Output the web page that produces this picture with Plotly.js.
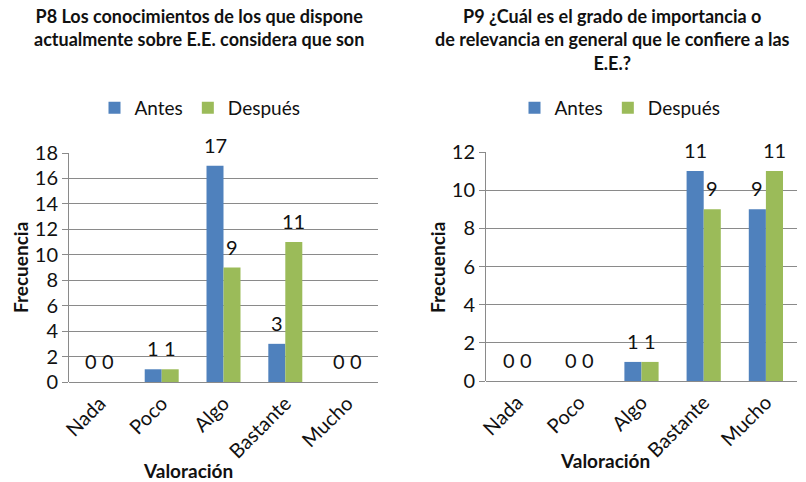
<!DOCTYPE html>
<html>
<head>
<meta charset="utf-8">
<script src="https://cdn.plot.ly/plotly-3.0.1.min.js"></script>
<style>html,body{margin:0;padding:0;background:#fff;}#chart{width:806px;height:482px;}</style>
</head>
<body>
<div id="chart"></div>
<script>
const categories = ["Nada", "Poco", "Algo", "Bastante", "Mucho"];
const p8Antes = [0, 1, 17, 3, 0];
const p8Despues = [0, 1, 9, 11, 0];
const p9Antes = [0, 0, 1, 11, 9];
const p9Despues = [0, 0, 1, 9, 11];
const seriesNames = ["Antes", "Después"];
const p8Title = "P8 Los conocimientos de los que dispone<br>actualmente sobre E.E. considera que son";
const p9Title = "P9 ¿Cuál es el grado de importancia o<br>de relevancia en general que le confiere a las<br>E.E.?";
const yTitle = "Frecuencia";
const xTitle = "Valoración";

const W = 806, H = 482;
const px = v => v / W;
const py = v => 1 - v / H;
const FONT = "Lato, Carlito, Calibri, sans-serif";
const BLUE = "#4F81BD", GREEN = "#9BBB59";
const tf = {family: FONT, size: 20, color: "#111"};
const lf = {family: FONT, size: 19, color: "#111"};

function bar(name, vals, color, xa, ya, legend) {
  return {
    type: "bar", name: name, x: categories, y: vals, xaxis: xa, yaxis: ya,
    marker: {color: color}, cliponaxis: false, legend: legend, showlegend: true,
    hoverinfo: "skip"
  };
}

const data = [
  bar(seriesNames[0], p8Antes, BLUE, "x", "y", "legend"),
  bar(seriesNames[1], p8Despues, GREEN, "x", "y", "legend"),
  bar(seriesNames[0], p9Antes, BLUE, "x2", "y2", "legend2"),
  bar(seriesNames[1], p9Despues, GREEN, "x2", "y2", "legend2")
];

// value labels above each bar, placed through the axes' own scales
function labels(vals, xr, yr, shift) {
  return vals.map((v, i) => ({
    text: String(v), xref: xr, yref: yr, x: categories[i], y: v,
    xshift: shift, yshift: 7, xanchor: "center", yanchor: "bottom",
    showarrow: false, font: tf
  }));
}

const gridc = "#8a8a8a";
function xax(dom, anchor) {
  return {domain: dom, anchor: anchor, type: "category", tickangle: -45,
    tickfont: tf, showgrid: false, showline: false, zeroline: false, ticks: "",
    ticklabelstandoff: 5, fixedrange: true};
}
function yax(dom, anchor, max) {
  return {domain: dom, anchor: anchor, range: [0, max], dtick: 2, tickfont: tf,
    showgrid: true, gridcolor: gridc, gridwidth: 1, showline: true, linecolor: gridc,
    zeroline: true, zerolinecolor: gridc, zerolinewidth: 1,
    ticks: "outside", ticklen: 6, tickcolor: gridc, fixedrange: true};
}

const bold = {family: FONT, size: 18, color: "#111"};
const axbold = {family: FONT, size: 19, color: "#111"};
const layout = {
  width: W, height: H, margin: {l: 0, r: 0, t: 0, b: 0},
  paper_bgcolor: "#fff", plot_bgcolor: "#fff",
  barmode: "group", bargap: 0.45, bargroupgap: 0,
  xaxis: xax([px(69), px(378)], "y"),
  yaxis: yax([py(382), py(153)], "x", 18),
  xaxis2: xax([px(486), px(797)], "y2"),
  yaxis2: yax([py(381), py(152)], "x2", 12),
  legend: {orientation: "h", x: px(200), xanchor: "center", y: py(108), yanchor: "middle",
    font: lf, bgcolor: "rgba(0,0,0,0)", itemwidth: 30},
  legend2: {orientation: "h", x: px(620), xanchor: "center", y: py(108), yanchor: "middle",
    font: lf, bgcolor: "rgba(0,0,0,0)", itemwidth: 30},
  annotations: [
    {text: "<b>" + p8Title + "</b>", xref: "paper", yref: "paper", x: px(199), y: py(3),
      xanchor: "center", yanchor: "top", showarrow: false, font: bold},
    {text: "<b>" + p9Title + "</b>", xref: "paper", yref: "paper", x: px(612), y: py(3),
      xanchor: "center", yanchor: "top", showarrow: false, font: bold},
    {text: "<b>" + yTitle + "</b>", xref: "paper", yref: "paper", x: px(20), y: py(268),
      xanchor: "center", yanchor: "middle", textangle: -90, showarrow: false, font: axbold},
    {text: "<b>" + yTitle + "</b>", xref: "paper", yref: "paper", x: px(437), y: py(267),
      xanchor: "center", yanchor: "middle", textangle: -90, showarrow: false, font: axbold},
    {text: "<b>" + xTitle + "</b>", xref: "paper", yref: "paper", x: px(188), y: py(470),
      xanchor: "center", yanchor: "middle", showarrow: false, font: axbold},
    {text: "<b>" + xTitle + "</b>", xref: "paper", yref: "paper", x: px(605), y: py(460),
      xanchor: "center", yanchor: "middle", showarrow: false, font: axbold}
  ].concat(
    labels(p8Antes, "x", "y", -8.5),
    labels(p8Despues, "x", "y", 8.5),
    labels(p9Antes, "x2", "y2", -8.5),
    labels(p9Despues, "x2", "y2", 8.5)
  )
};

Plotly.newPlot("chart", data, layout, {displayModeBar: false, staticPlot: true});
</script>
</body>
</html>
